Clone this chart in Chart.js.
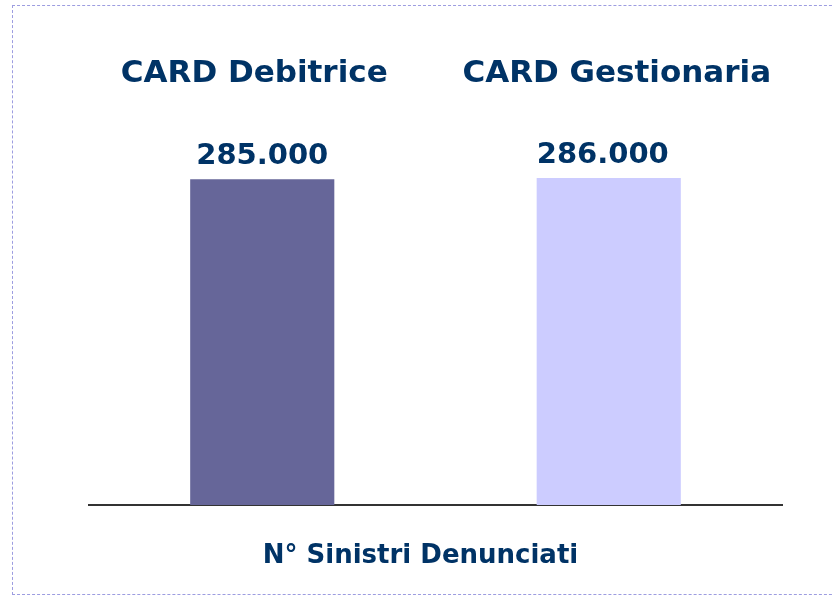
<!DOCTYPE html>
<html>
<head>
<meta charset="utf-8">
<script src="https://cdn.jsdelivr.net/npm/chart.js@4"></script>
<style>
  body { margin: 0; background: #fff; }
  #wrap { position: relative; width: 832px; height: 596px; }
  #frame { position: absolute; left: 12px; top: 5px; width: 840px; height: 590px; border: 1px dashed #9d9de0; box-sizing: border-box; }
  canvas { position: absolute; left: 0; top: 0; }
</style>
</head>
<body>
<div id="wrap">
  <div id="frame"></div>
  <canvas id="chart" width="832" height="596"></canvas>
</div>
<script>
const categories = ['CARD Debitrice', 'CARD Gestionaria'];
const values = [285000, 286000];
const valueLabels = ['285.000', '286.000'];
const barColors = ['#666699', '#CCCCFF'];
const axisTitle = 'N° Sinistri Denunciati';

const textColor = '#003366';
const fontFamily = '"DejaVu Sans", Verdana, sans-serif';

// category names above, value labels over each bar, axis title below
const labelsPlugin = {
  id: 'labels',
  afterDatasetsDraw(chart) {
    const ctx = chart.ctx;
    const meta = chart.getDatasetMeta(0);
    const xScale = chart.scales.x;
    const area = chart.chartArea;
    ctx.save();
    ctx.fillStyle = textColor;
    ctx.textAlign = 'center';
    ctx.textBaseline = 'middle';
    ctx.font = 'bold 31px ' + fontFamily;
    categories.forEach((c, i) => {
      const shift = i === 0 ? -8 : 8;
      ctx.fillText(c, xScale.getPixelForValue(i) + shift, area.top + 34);
    });
    ctx.textBaseline = 'alphabetic';
    ctx.font = 'bold 29px ' + fontFamily;
    meta.data.forEach((bar, i) => {
      ctx.fillText(valueLabels[i], bar.x - (i === 0 ? 0 : 6), bar.y - 15);
    });
    ctx.textBaseline = 'middle';
    ctx.font = 'bold 26px ' + fontFamily;
    ctx.fillText(axisTitle, (area.left + area.right) / 2 - 15, area.bottom + 51);
    ctx.restore();
  }
};

new Chart(document.getElementById('chart').getContext('2d'), {
  type: 'bar',
  data: {
    labels: categories,
    datasets: [{
      data: values,
      backgroundColor: barColors,
      borderWidth: 0,
      categoryPercentage: 1,
      barPercentage: 0.416
    }]
  },
  options: {
    responsive: false,
    animation: false,
    layout: { padding: { left: 89, right: 50, top: 40, bottom: 91 } },
    plugins: { legend: { display: false }, tooltip: { enabled: false } },
    scales: {
      y: { display: false, min: 0, max: 406700 },
      x: {
        grid: { display: false, drawTicks: false, tickLength: 0 },
        border: { display: true, color: '#333333', width: 2 },
        ticks: { display: false }
      }
    }
  },
  plugins: [labelsPlugin]
});
</script>
</body>
</html>
